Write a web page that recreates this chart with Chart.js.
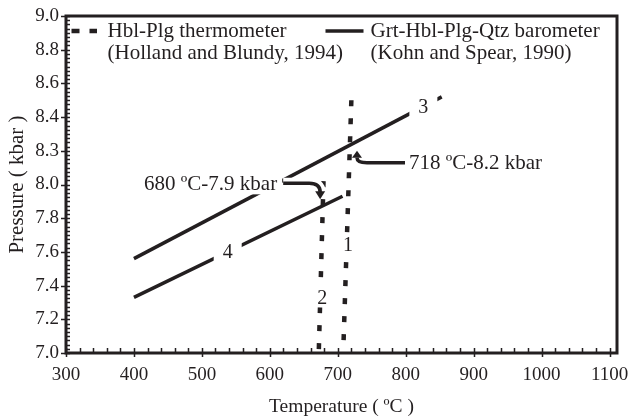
<!DOCTYPE html>
<html>
<head>
<meta charset="utf-8">
<title>P-T estimates</title>
<script src="https://cdn.jsdelivr.net/npm/chart.js@4/dist/chart.umd.min.js"></script>
<style>
  html, body { margin: 0; padding: 0; background: #fff; }
  #wrap { position: relative; width: 630px; height: 417px; }
</style>
</head>
<body>
<div id="wrap"><canvas id="ptChart"></canvas></div>
<script>
'use strict';

const INK = '#231f20';
const SERIF = '"Liberation Serif", "Times New Roman", serif';

// axis ticks
const xTickValues = [300, 400, 500, 600, 700, 800, 900, 1000, 1100];
const yTickValues = [7.0, 7.2, 7.4, 7.6, 7.8, 8.0, 8.2, 8.4, 8.6, 8.8, 9.0];
const yTickLabels = ['7.0', '7.2', '7.4', '7.6', '7.8', '8.0', '8.3', '8.4', '8.6', '8.8', '9.0'];

// Hbl-Plg thermometer lines (temperature, pressure), listed from the top end
const thermoLine1 = [{ x: 720, y: 8.50 }, { x: 708, y: 7.0 }];
const thermoLine2 = [{ x: 679, y: 8.02 }, { x: 672, y: 7.0 }];

// Grt-Hbl-Plg-Qtz barometer lines
const baroLine3 = [{ x: 400, y: 7.56 }, { x: 853, y: 8.52 }];
const baroLine4 = [{ x: 400, y: 7.33 }, { x: 707, y: 7.93 }];

const legendNames = ['Hbl-Plg thermometer', 'Grt-Hbl-Plg-Qtz barometer'];
const legendRefs = ['(Holland and Blundy, 1994)', '(Kohn and Spear, 1990)'];

const lineNumbers = ['1', '2', '3', '4'];
const lineNumberAt = [[715, 7.64], [677, 7.33], [826, 8.46], [538, 7.60]];

const resultLabels = ['680 ºC-7.9 kbar', '718 ºC-8.2 kbar'];
const resultPoints = [[680, 7.9], [718, 8.2]];

const DASH = [6, 12];

function lineDataset(data, dashed) {
  return {
    data: data,
    showLine: true,
    borderColor: INK,
    borderWidth: dashed ? 4.5 : 3.5,
    borderDash: dashed ? DASH : [],
    pointRadius: 0,
    fill: false
  };
}

const decorations = {
  id: 'decorations',
  afterDatasetsDraw: function (chart) {
    const ctx = chart.ctx;
    const xs = chart.scales.x;
    const ys = chart.scales.y;
    ctx.save();

    // numbers sitting on the lines
    ctx.font = '20px ' + SERIF;
    ctx.textAlign = 'center';
    ctx.textBaseline = 'middle';
    lineNumbers.forEach(function (text, i) {
      const px = xs.getPixelForValue(lineNumberAt[i][0]);
      const py = ys.getPixelForValue(lineNumberAt[i][1]);
      const w = i >= 2 ? 28 : 12;
      ctx.fillStyle = '#fff';
      ctx.fillRect(px - w / 2, py - 10, w, 20);
      ctx.fillStyle = INK;
      ctx.fillText(text, px, py + 1);
    });

    ctx.font = '21px ' + SERIF;

    // 680 ºC-7.9 kbar, arrow pointing down
    const a = {
      x: xs.getPixelForValue(resultPoints[0][0]) - 3,
      y: ys.getPixelForValue(resultPoints[0][1]) - 2
    };
    const ay = a.y - 16;
    const aw = ctx.measureText(resultLabels[0]).width;
    ctx.fillStyle = '#fff';
    ctx.fillRect(a.x - 44 - aw - 3, ay - 11, aw + 8, 22);
    ctx.lineCap = 'butt';
    ctx.beginPath();
    ctx.moveTo(a.x - 38, ay);
    ctx.lineTo(a.x - 12, ay);
    ctx.quadraticCurveTo(a.x - 1, ay, a.x - 1, ay + 9);
    ctx.strokeStyle = '#fff';
    ctx.lineWidth = 11;
    ctx.stroke();
    ctx.strokeStyle = INK;
    ctx.lineWidth = 3.5;
    ctx.stroke();
    ctx.beginPath();
    ctx.moveTo(a.x - 6, a.y - 8);
    ctx.lineTo(a.x + 4, a.y - 8);
    ctx.lineTo(a.x - 1, a.y);
    ctx.closePath();
    ctx.fillStyle = INK;
    ctx.fill();
    ctx.textAlign = 'right';
    ctx.fillText(resultLabels[0], a.x - 44, ay + 1);

    // 718 ºC-8.2 kbar, arrow pointing up
    const b = {
      x: xs.getPixelForValue(resultPoints[1][0]) + 7,
      y: ys.getPixelForValue(resultPoints[1][1])
    };
    const by = b.y + 12;
    ctx.beginPath();
    ctx.moveTo(b.x + 48, by);
    ctx.lineTo(b.x + 10, by);
    ctx.quadraticCurveTo(b.x, by, b.x, by - 5);
    ctx.strokeStyle = INK;
    ctx.lineWidth = 3.5;
    ctx.stroke();
    ctx.beginPath();
    ctx.moveTo(b.x - 5, b.y + 7);
    ctx.lineTo(b.x + 5, b.y + 7);
    ctx.lineTo(b.x, b.y);
    ctx.closePath();
    ctx.fill();
    ctx.textAlign = 'left';
    ctx.fillText(resultLabels[1], b.x + 52, by + 1);

    ctx.restore();
  },
  afterDraw: function (chart) {
    const ctx = chart.ctx;
    const area = chart.chartArea;
    const xs = chart.scales.x;
    const ys = chart.scales.y;
    ctx.save();
    ctx.strokeStyle = INK;
    ctx.lineWidth = 3;
    ctx.strokeRect(area.left, area.top, area.right - area.left, area.bottom - area.top);

    // minor and major tick marks
    ctx.lineWidth = 1.5;
    ctx.beginPath();
    for (let t = 300; t <= 1100; t += 20) {
      const px = Math.round(xs.getPixelForValue(t)) + 0.5;
      const major = t % 100 === 0;
      ctx.moveTo(px, area.bottom - 5);
      ctx.lineTo(px, area.bottom + (major ? 4 : 0));
    }
    for (let i = 0; i <= 80; i++) {
      const py = Math.round(ys.getPixelForValue(7 + i * 0.025)) + 0.5;
      const major = i % 8 === 0;
      ctx.moveTo(area.left - (major ? 5 : 0), py);
      ctx.lineTo(area.left + 4, py);
    }
    ctx.stroke();

    // legend
    const ly1 = area.top + 15;
    const ly2 = area.top + 37;
    ctx.lineWidth = 4.5;
    ctx.setLineDash([8, 10]);
    ctx.beginPath();
    ctx.moveTo(area.left + 5.5, ly1);
    ctx.lineTo(area.left + 31, ly1);
    ctx.stroke();
    ctx.setLineDash([]);
    ctx.lineWidth = 3.5;
    ctx.beginPath();
    ctx.moveTo(area.left + 259.5, ly1);
    ctx.lineTo(area.left + 297.5, ly1);
    ctx.stroke();

    ctx.fillStyle = INK;
    ctx.font = '21px ' + SERIF;
    ctx.textAlign = 'left';
    ctx.textBaseline = 'middle';
    ctx.fillText(legendNames[0], area.left + 41.5, ly1);
    ctx.fillText(legendRefs[0], area.left + 41.5, ly2);
    ctx.fillText(legendNames[1], area.left + 304.5, ly1);
    ctx.fillText(legendRefs[1], area.left + 304.5, ly2);
    ctx.restore();
  }
};

new Chart(document.getElementById('ptChart'), {
  type: 'scatter',
  data: {
    datasets: [
      lineDataset(thermoLine1, true),
      lineDataset(thermoLine2, true),
      lineDataset(baroLine3, false),
      lineDataset(baroLine4, false)
    ]
  },
  options: {
    responsive: true,
    maintainAspectRatio: false,
    animation: false,
    layout: { padding: { top: 16, right: 13, left: 0, bottom: 0 } },
    plugins: {
      legend: { display: false },
      tooltip: { enabled: false }
    },
    scales: {
      x: {
        type: 'linear',
        min: 300,
        max: 1111,
        afterBuildTicks: function (scale) {
          scale.ticks = xTickValues.map(function (v) { return { value: v }; });
        },
        afterFit: function (scale) {
          scale.height = 64;
          scale.paddingLeft = 0;
          scale.paddingRight = 0;
        },
        grid: { display: false, drawTicks: false },
        border: { display: false },
        ticks: {
          color: INK,
          padding: 11,
          maxRotation: 0,
          autoSkip: false,
          font: { family: SERIF, size: 19 },
          callback: function (value) { return String(value); }
        },
        title: {
          display: true,
          text: 'Temperature ( ºC )',
          color: INK,
          font: { family: SERIF, size: 19.5, lineHeight: 1 },
          padding: { top: 0, bottom: 0 }
        }
      },
      y: {
        type: 'linear',
        min: 7,
        max: 9,
        afterBuildTicks: function (scale) {
          scale.ticks = yTickValues.map(function (v) { return { value: v }; });
        },
        afterFit: function (scale) {
          scale.width = 66;
          scale.paddingTop = 0;
          scale.paddingBottom = 0;
        },
        grid: { display: false, drawTicks: false },
        border: { display: false },
        ticks: {
          color: INK,
          padding: 7,
          autoSkip: false,
          font: { family: SERIF, size: 19 },
          callback: function (value, index) { return yTickLabels[index]; }
        },
        title: {
          display: true,
          text: 'Pressure ( kbar )',
          color: INK,
          font: { family: SERIF, size: 21, lineHeight: 1 },
          padding: { top: 7, bottom: 0 }
        }
      }
    }
  },
  plugins: [decorations]
});
</script>
</body>
</html>
